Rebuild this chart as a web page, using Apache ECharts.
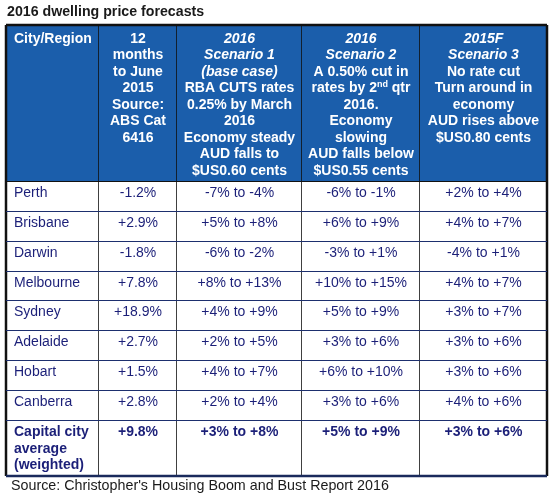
<!DOCTYPE html>
<html><head><meta charset="utf-8">
<script src="https://cdn.jsdelivr.net/npm/echarts@6/dist/echarts.min.js"></script>
<style>html,body{margin:0;padding:0;background:#fff}#c{width:554px;height:501px}</style>
</head><body><div id="c"></div>
<script>
// ---- data ----
const title = '2016 dwelling price forecasts';
const source = "Source: Christopher's Housing Boom and Bust Report 2016";
const headerCity = ['City/Region'];
const header12m = ['12', 'months', 'to June', '2015', 'Source:', 'ABS Cat', '6416'];
const headerS1 = ['2016', 'Scenario 1', '(base case)', 'RBA CUTS rates', '0.25% by March', '2016', 'Economy steady', 'AUD falls to', '$US0.60 cents'];
const headerS2 = ['2016', 'Scenario 2', 'A 0.50% cut in', 'rates by 2^nd qtr', '2016.', 'Economy', 'slowing', 'AUD falls below', '$US0.55 cents'];
const headerS3 = ['2015F', 'Scenario 3', 'No rate cut', 'Turn around in', 'economy', 'AUD rises above', '$US0.80 cents'];
const cities = ['Perth', 'Brisbane', 'Darwin', 'Melbourne', 'Sydney', 'Adelaide', 'Hobart', 'Canberra', 'Capital city\naverage\n(weighted)'];
const change12m = ['-1.2%', '+2.9%', '-1.8%', '+7.8%', '+18.9%', '+2.7%', '+1.5%', '+2.8%', '+9.8%'];
const scenario1 = ['-7% to -4%', '+5% to +8%', '-6% to -2%', '+8% to +13%', '+4% to +9%', '+2% to +5%', '+4% to +7%', '+2% to +4%', '+3% to +8%'];
const scenario2 = ['-6% to -1%', '+6% to +9%', '-3% to +1%', '+10% to +15%', '+5% to +9%', '+3% to +6%', '+6% to +10%', '+3% to +6%', '+5% to +9%'];
const scenario3 = ['+2% to +4%', '+4% to +7%', '-4% to +1%', '+4% to +7%', '+3% to +7%', '+3% to +6%', '+3% to +6%', '+4% to +6%', '+3% to +6%'];

// ---- layout (positions / styles) ----
const colEdges = [6, 99, 177, 302, 420, 547];
const rowEdges = [25, 182, 212, 242, 272, 301, 331, 361, 391, 421, 476];
const italicLines = [0, 0, 3, 2, 2];
const FONT = '"Liberation Sans", Arial, sans-serif';
const HEAD_BG = '#1b5eab';
const TXT = '#1b1f78';

const headers = [headerCity, header12m, headerS1, headerS2, headerS3];
const bodyCols = [cities, change12m, scenario1, scenario2, scenario3];
const nRows = cities.length + 1;

const cells = [];
for (let r = 0; r < nRows; r++) for (let c = 0; c < 5; c++) cells.push([c, r]);

function headerRich(c) {
  return headers[c].map((ln, i) => {
    if (ln.indexOf('^') >= 0) {
      const m = ln.match(/^(.*?)\^(\w+)(.*)$/);
      return '{b|' + m[1] + '}{sup|' + m[2] + '}{b|' + m[3] + '}';
    }
    return (i < italicLines[c] ? '{it|' : '{b|') + ln + '}';
  }).join('\n');
}

function renderItem(params, api) {
  const c = api.value(0), r = api.value(1);
  const p0 = api.coord([colEdges[c], rowEdges[r]]);
  const p1 = api.coord([colEdges[c + 1], rowEdges[r + 1]]);
  const x0 = p0[0], y0 = p0[1], x1 = p1[0], y1 = p1[1];
  const children = [];
  const isHead = r === 0;
  const isLast = r === nRows - 1;
  children.push({ type: 'rect', shape: { x: x0, y: y0, width: x1 - x0, height: y1 - y0 },
    style: { fill: isHead ? HEAD_BG : '#fff' } });
  children.push({ type: 'line', shape: { x1: x1, y1: y0, x2: x1, y2: y1 },
    style: { stroke: '#111', lineWidth: c === 4 ? 2.5 : 1.6 } });
  if (c === 0) children.push({ type: 'line', shape: { x1: x0, y1: y0, x2: x0, y2: y1 },
    style: { stroke: '#111', lineWidth: 2.5 } });
  children.push({ type: 'line', shape: { x1: x0, y1: y1, x2: x1, y2: y1 },
    style: { stroke: isLast ? '#1a2a5c' : (isHead ? '#111' : '#1d2f6e'), lineWidth: isLast ? 2.5 : 1.8 } });
  if (isHead) {
    children.push({ type: 'line', shape: { x1: x0, y1: y0, x2: x1, y2: y0 },
      style: { stroke: '#111', lineWidth: 2.5 } });
    const left = c === 0;
    children.push({ type: 'text', style: {
      x: left ? x0 + 8 : (x0 + x1) / 2, y: y0 + 5.5,
      text: headerRich(c), align: left ? 'left' : 'center', verticalAlign: 'top',
      rich: {
        b: { fontFamily: FONT, fontSize: 14, fontWeight: 'bold', fill: '#fff', lineHeight: 16.5 },
        it: { fontFamily: FONT, fontSize: 14, fontWeight: 'bold', fontStyle: 'italic', fill: '#fff', lineHeight: 16.5 },
        sup: { fontFamily: FONT, fontSize: 9, fontWeight: 'bold', fill: '#fff', lineHeight: 16.5, verticalAlign: 'top', padding: [0, 0, 6, 0] }
      } } });
  } else {
    const t = bodyCols[c][r - 1];
    const left = c === 0;
    children.push({ type: 'text', style: {
      x: left ? x0 + 8 : (x0 + x1) / 2, y: y0 + 3,
      text: t, align: left ? 'left' : 'center', verticalAlign: 'top',
      fontFamily: FONT, fontSize: 14, lineHeight: 16.5,
      fontWeight: isLast ? 'bold' : 'normal', fill: TXT } });
  }
  return { type: 'group', children: children };
}

const chart = echarts.init(document.getElementById('c'), null, { renderer: 'canvas' });
chart.setOption({
  animation: false,
  backgroundColor: '#fff',
  title: [
    { text: title, left: 7, top: 5, padding: 0, textStyle: { fontFamily: FONT, fontSize: 14.2, fontWeight: 'bold', color: '#1a1a1a' } },
    { text: source, left: 11, top: 479, padding: 0, textStyle: { fontFamily: FONT, fontSize: 14.3, fontWeight: 'normal', color: '#1a1a1a' } }
  ],
  grid: { left: 0, right: 0, top: 0, bottom: 0 },
  xAxis: { type: 'value', min: 0, max: 554, show: false },
  yAxis: { type: 'value', min: 0, max: 501, inverse: true, show: false },
  series: [{ type: 'custom', renderItem: renderItem, clip: false, data: cells, encode: { x: 0, y: 1 } }]
});
</script></body></html>
